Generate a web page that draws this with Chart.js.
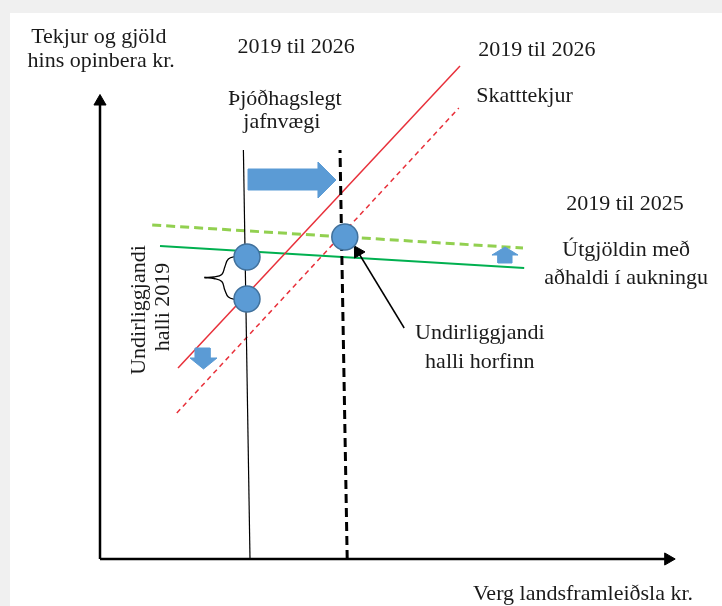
<!DOCTYPE html>
<html>
<head>
<meta charset="utf-8">
<script src="https://cdn.jsdelivr.net/npm/chart.js@4.4.1/dist/chart.umd.min.js"></script>
<style>
  html, body { margin: 0; padding: 0; background: #f0f0f0; }
  #wrap { width: 722px; height: 606px; }
</style>
</head>
<body>
<div id="wrap"><canvas id="c"></canvas></div>
<script>
// Diagram in abstract units: x 0..100 = GDP, y 0..100 = revenue / spending
const yAxisPts = [[0, 0], [0, 91.5]];
const xAxisPts = [[0, 0], [94.7, 0]];
const line2019 = [[25, 0], [23.9, 81.8]];
const lineBalance = [[41.2, 0], [40, 81.8]];
const taxSolid = [[13, 38.2], [60, 98.6]];
const taxDashed = [[12.8, 29.2], [59.8, 90.2]];
const spendDashed = [[8.7, 66.8], [70.5, 62.2]];
const spendSolid = [[10, 62.6], [70.7, 58.2]];
const dots = [[24.5, 60.4], [24.5, 52], [40.8, 64.4]];
const braceTop = [[22.8, 60.6], [21.4, 60], [20.8, 58.4], [20.3, 56.9], [19, 56.4], [17.4, 56.3]];
const braceBottom = [[17.4, 56.3], [19, 56.1], [20.3, 55.5], [20.8, 53.8], [21.4, 52.4], [22.8, 51.8]];
const bigArrow = [[24.67, 78], [36.33, 78], [36.33, 79.4], [39.33, 75.8], [36.33, 72.2], [36.33, 73.8], [24.67, 73.8], [24.67, 78]];
const downArrow = [[15.83, 42.2], [18.33, 42.2], [18.33, 40.2], [19.5, 40.2], [17.25, 38], [15, 40.2], [15.83, 40.2], [15.83, 42.2]];
const upArrow = [[66.33, 59.2], [68.67, 59.2], [68.67, 60.8], [69.67, 60.8], [67.5, 62.4], [65.33, 60.8], [66.33, 60.8], [66.33, 59.2]];
const pointer = [[50.7, 46.2], [43, 61.4]];

const notesText = ['Tekjur og gjöld', 'hins opinbera kr.', '2019 til 2026', 'Þjóðhagslegt', 'jafnvægi',
  '2019 til 2026', 'Skatttekjur', '2019 til 2025', 'Útgjöldin með', 'aðhaldi í aukningu',
  'Undirliggjandi', 'halli horfinn', 'Verg landsframleiðsla kr.', 'Undirliggjandi', 'halli 2019'];

// where each note sits (same units as the scales)
const notesAt = [
  { x: -0.2, y: 104.4 }, { x: 0.2, y: 99.6 }, { x: 32.7, y: 102.4 }, { x: 30.8, y: 92 }, { x: 30.3, y: 87.4 },
  { x: 72.8, y: 101.8 }, { x: 62.7, y: 92.6, align: 'left' }, { x: 87.5, y: 71 }, { x: 87.7, y: 61.8 }, { x: 87.7, y: 56.2 },
  { x: 63.3, y: 45.2 }, { x: 63.3, y: 39.4 }, { x: 80.5, y: -7 }, { x: 6.5, y: 49.8, rot: -90 }, { x: 10.5, y: 50.4, rot: -90 }
];

const BLUE = '#5b9bd5';
const xy = a => a.map(([x, y]) => ({ x, y }));

function line(data, color, width, dash, extra) {
  return Object.assign({
    data: xy(data), showLine: true, borderColor: color, borderWidth: width,
    borderDash: dash || [], pointRadius: 0, fill: false, clip: false, order: 5
  }, extra || {});
}

function shape(data) {
  return {
    data: xy(data), showLine: true, fill: 'shape', backgroundColor: BLUE,
    borderColor: BLUE, borderWidth: 1, pointRadius: 0, clip: false, order: 2
  };
}

function arrowLine(data, width, rot) {
  return line(data, '#000', width, [], {
    pointStyle: 'triangle', pointRadius: [0, 7], pointRotation: [0, rot],
    pointBackgroundColor: '#000', pointBorderColor: '#000', pointBorderWidth: 1, order: 3
  });
}

const paperBg = {
  id: 'paperBg',
  beforeDraw(chart) {
    const ctx = chart.ctx;
    ctx.save();
    ctx.fillStyle = '#f0f0f0';
    ctx.fillRect(0, 0, chart.width, chart.height);
    ctx.fillStyle = '#ffffff';
    ctx.fillRect(10, 13, chart.width - 10, chart.height - 13);
    ctx.restore();
  }
};

const notes = {
  id: 'notes',
  afterDatasetsDraw(chart) {
    const { ctx, scales: { x, y } } = chart;
    ctx.save();
    ctx.fillStyle = '#1a1a1a';
    ctx.font = '22px "Liberation Serif", "Times New Roman", serif';
    ctx.textBaseline = 'middle';
    notesText.forEach((t, i) => {
      const at = notesAt[i];
      ctx.save();
      ctx.translate(x.getPixelForValue(at.x), y.getPixelForValue(at.y));
      if (at.rot) ctx.rotate(at.rot * Math.PI / 180);
      ctx.textAlign = at.align || 'center';
      ctx.fillText(t, 0, 0);
      ctx.restore();
    });
    ctx.restore();
  }
};

new Chart(document.getElementById('c'), {
  type: 'scatter',
  data: {
    datasets: [
      {
        data: xy(dots), pointRadius: 13, pointHoverRadius: 13, backgroundColor: BLUE,
        borderColor: '#41719c', borderWidth: 1.5, clip: false, order: 0
      },
      arrowLine(yAxisPts, 2.5, 0),
      arrowLine(xAxisPts, 2.5, 90),
      arrowLine(pointer, 1.5, -31),
      line(line2019, '#000', 1.2),
      line(lineBalance, '#000', 3, [9, 5]),
      line(taxSolid, '#e8303a', 1.5),
      line(taxDashed, '#e8303a', 1.5, [5, 4]),
      line(spendDashed, '#92d050', 3, [9, 5]),
      line(spendSolid, '#00b050', 1.8),
      line(braceTop, '#000', 1.3, [], { tension: 0.4 }),
      line(braceBottom, '#000', 1.3, [], { tension: 0.4 }),
      shape(bigArrow),
      shape(downArrow),
      shape(upArrow)
    ]
  },
  options: {
    responsive: true,
    maintainAspectRatio: false,
    animation: false,
    layout: { padding: { left: 100, right: 22, top: 59, bottom: 47 } },
    scales: {
      x: { type: 'linear', min: 0, max: 100, display: false },
      y: { type: 'linear', min: 0, max: 100, display: false }
    },
    plugins: {
      legend: { display: false },
      tooltip: { enabled: false }
    }
  },
  plugins: [paperBg, notes]
});
</script>
</body>
</html>
